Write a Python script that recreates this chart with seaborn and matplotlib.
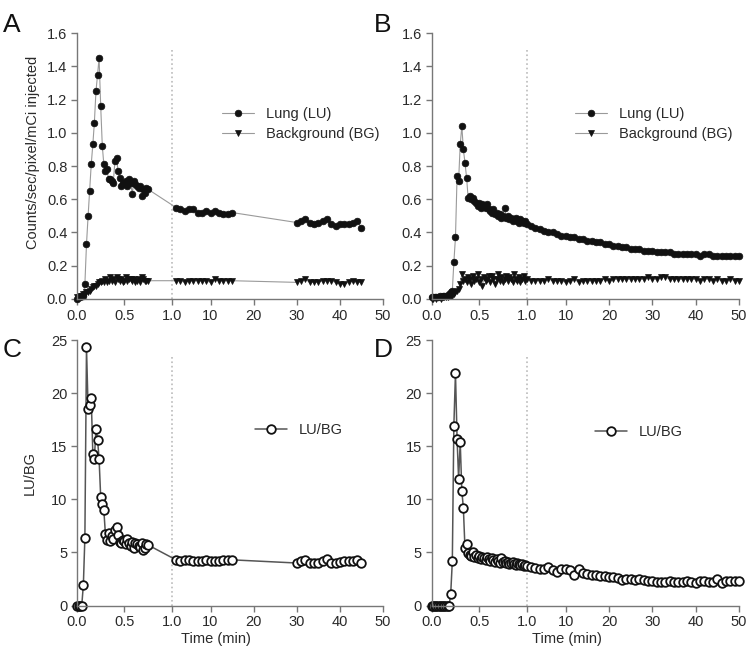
import numpy as np
import seaborn as sns
import matplotlib.pyplot as plt

# frame times (min): 1 s frames early, then 1 min frames
time_a = [0.000, 0.017, 0.033, 0.050, 0.067, 0.083, 0.100, 0.117, 0.133, 0.150,
          0.167, 0.183, 0.200, 0.217, 0.233, 0.250, 0.267, 0.283, 0.300, 0.317,
          0.333, 0.350, 0.367, 0.383, 0.400, 0.417, 0.433, 0.450, 0.467, 0.483,
          0.500, 0.517, 0.533, 0.550, 0.567, 0.583, 0.600, 0.617, 0.633, 0.650,
          0.667, 0.683, 0.700, 0.717, 0.733, 0.750,
          2, 3, 4, 5, 6, 7, 8, 9, 10, 11, 12, 13, 14, 15,
          30, 31, 32, 33, 34, 35, 36, 37, 38, 39, 40, 41, 42, 43, 44, 45]

time_b = [0.000, 0.017, 0.033, 0.050, 0.067, 0.083, 0.100, 0.117, 0.133, 0.150,
          0.167, 0.183, 0.200, 0.217, 0.233, 0.250, 0.267, 0.283, 0.300, 0.317,
          0.333, 0.350, 0.367, 0.383, 0.400, 0.417, 0.433, 0.450, 0.467, 0.483,
          0.500, 0.517, 0.533, 0.550, 0.567, 0.583, 0.600, 0.617, 0.633, 0.650,
          0.667, 0.683, 0.700, 0.717, 0.733, 0.750, 0.767, 0.783, 0.800, 0.817,
          0.833, 0.850, 0.867, 0.883, 0.900, 0.917, 0.933, 0.950, 0.967, 0.983,
          1.000,
          2, 3, 4, 5, 6, 7, 8, 9, 10, 11, 12, 13, 14, 15, 16, 17, 18, 19, 20,
          21, 22, 23, 24, 25, 26, 27, 28, 29, 30, 31, 32, 33, 34, 35, 36, 37,
          38, 39, 40, 41, 42, 43, 44, 45, 46, 47, 48, 49, 50]

# panel A
lung_a = [0.00, 0.01, 0.01, 0.02, 0.02, 0.09, 0.33, 0.50, 0.65, 0.81,
          0.93, 1.06, 1.25, 1.35, 1.45, 1.16, 0.92, 0.81, 0.77, 0.78,
          0.72, 0.72, 0.71, 0.70, 0.83, 0.85, 0.77, 0.73, 0.68, 0.70,
          0.70, 0.71, 0.68, 0.72, 0.70, 0.63, 0.71, 0.69, 0.68, 0.67,
          0.68, 0.62, 0.66, 0.64, 0.67, 0.66,
          0.55, 0.54, 0.53, 0.54, 0.54, 0.52, 0.52, 0.53, 0.52, 0.53, 0.52, 0.51, 0.51, 0.52,
          0.46, 0.47, 0.48, 0.46, 0.45, 0.46, 0.47, 0.48, 0.45, 0.44, 0.45, 0.45, 0.45, 0.46, 0.47, 0.43]
bg_a = [0.01, 0.01, 0.02, 0.02, 0.03, 0.03, 0.04, 0.04, 0.05, 0.06,
        0.07, 0.08, 0.08, 0.09, 0.10, 0.10, 0.11, 0.10, 0.12, 0.10,
        0.11, 0.13, 0.11, 0.12, 0.10, 0.13, 0.12, 0.11, 0.12, 0.10,
        0.11, 0.13, 0.11, 0.12, 0.12, 0.11, 0.12, 0.10, 0.11, 0.12,
        0.10, 0.13, 0.12, 0.11, 0.11, 0.11,
        0.11, 0.11, 0.10, 0.11, 0.11, 0.11, 0.11, 0.11, 0.10, 0.12, 0.11, 0.11, 0.11, 0.11,
        0.10, 0.11, 0.12, 0.10, 0.10, 0.10, 0.11, 0.11, 0.11, 0.10, 0.09, 0.09, 0.10, 0.11, 0.10, 0.10]

# panel C
ratio_c = [0, 0, 0, 0, 1.95, 6.4, 24.3, 18.5, 18.9, 19.5,
           14.3, 13.8, 16.6, 15.6, 13.8, 10.2, 9.6, 9.0, 6.7, 6.2,
           6.8, 6.1, 6.5, 6.3, 7.1, 7.4, 6.6, 6.0, 5.9, 6.2,
           6.1, 5.8, 6.3, 5.9, 5.6, 6.0, 5.4, 5.9, 5.8, 5.6,
           5.5, 5.9, 5.2, 5.4, 5.8, 5.7,
           4.3, 4.2, 4.3, 4.3, 4.2, 4.2, 4.2, 4.3, 4.2, 4.2, 4.2, 4.3, 4.3, 4.3,
           4.0, 4.2, 4.3, 4.0, 4.0, 4.0, 4.2, 4.4, 4.0, 4.0, 4.1, 4.2, 4.2, 4.2, 4.3, 4.0]

# panel B
lung_b = [0.01, 0.01, 0.01, 0.01, 0.01, 0.02, 0.01, 0.02, 0.02, 0.02,
          0.02, 0.03, 0.04, 0.05, 0.22, 0.37, 0.74, 0.71, 0.93, 1.04,
          0.90, 0.82, 0.73, 0.61, 0.62, 0.60, 0.61, 0.59, 0.58, 0.56,
          0.58, 0.55, 0.57, 0.56, 0.55, 0.57, 0.54, 0.53, 0.52, 0.54,
          0.51, 0.52, 0.50, 0.51, 0.49, 0.50, 0.55, 0.49, 0.50, 0.48,
          0.49, 0.47, 0.48, 0.49, 0.47, 0.46, 0.48, 0.47, 0.46, 0.47,
          0.45,
          0.44, 0.43, 0.42, 0.41, 0.40, 0.40, 0.39, 0.38, 0.38, 0.37,
          0.37, 0.36, 0.36, 0.35, 0.35, 0.34, 0.34, 0.33, 0.33, 0.32,
          0.32, 0.31, 0.31, 0.30, 0.30, 0.30, 0.29, 0.29, 0.29, 0.28,
          0.28, 0.28, 0.28, 0.27, 0.27, 0.27, 0.27, 0.27, 0.27, 0.26,
          0.27, 0.27, 0.26, 0.26, 0.26, 0.26, 0.26, 0.26, 0.26]
bg_b = [0.00, 0.00, 0.01, 0.00, 0.01, 0.01, 0.00, 0.01, 0.01, 0.01,
        0.01, 0.02, 0.02, 0.02, 0.03, 0.04, 0.05, 0.06, 0.09, 0.15,
        0.11, 0.12, 0.10, 0.13, 0.12, 0.09, 0.14, 0.11, 0.12, 0.15,
        0.10, 0.12, 0.08, 0.13, 0.11, 0.12, 0.14, 0.10, 0.14, 0.12,
        0.09, 0.12, 0.15, 0.11, 0.13, 0.10, 0.12, 0.14, 0.11, 0.13,
        0.12, 0.10, 0.15, 0.12, 0.11, 0.13, 0.10, 0.12, 0.14, 0.11,
        0.12,
        0.11, 0.11, 0.11, 0.11, 0.12, 0.11, 0.11, 0.11, 0.10, 0.11,
        0.12, 0.10, 0.11, 0.11, 0.11, 0.11, 0.11, 0.12, 0.11, 0.12,
        0.12, 0.12, 0.12, 0.12, 0.12, 0.12, 0.12, 0.13, 0.12, 0.12,
        0.13, 0.13, 0.12, 0.12, 0.12, 0.12, 0.12, 0.12, 0.12, 0.11,
        0.12, 0.12, 0.11, 0.12, 0.11, 0.11, 0.12, 0.11, 0.11]

# panel D
ratio_d = [0, 0, 0, 0, 0, 0, 0, 0, 0, 0,
           0, 0, 1.1, 4.2, 16.9, 21.9, 15.7, 11.9, 15.4, 10.8,
           9.2, 5.4, 5.8, 4.9, 4.8, 4.7, 5.0, 4.6, 4.8, 4.5,
           4.7, 4.4, 4.6, 4.5, 4.3, 4.6, 4.4, 4.2, 4.5, 4.3,
           4.1, 4.4, 4.2, 4.0, 4.5, 4.1, 4.2, 4.0, 4.1, 3.9,
           4.0, 4.1, 3.9, 3.8, 4.0, 3.9, 3.8, 3.9, 3.7, 3.8,
           3.7,
           3.6, 3.5, 3.4, 3.4, 3.6, 3.3, 3.2, 3.4, 3.4, 3.3,
           2.9, 3.4, 3.1, 3.0, 2.9, 2.9, 2.8, 2.8, 2.7, 2.7,
           2.6, 2.4, 2.5, 2.5, 2.4, 2.5, 2.4, 2.3, 2.3, 2.2,
           2.2, 2.2, 2.3, 2.2, 2.2, 2.2, 2.3, 2.2, 2.1, 2.3,
           2.3, 2.2, 2.2, 2.5, 2.1, 2.3, 2.3, 2.3, 2.3]

x_ticks = [0, 0.5, 1.0, 10, 20, 30, 40, 50]
x_ticklabels = ['0.0', '0.5', '1.0', '10', '20', '30', '40', '50']

sns.set_style('ticks')
plt.rcParams['font.family'] = ['Liberation Sans', 'DejaVu Sans']

# broken time axis: 0-1 min stretched, 1-50 min compressed
K = (212 / 95) / 49


def fwd(t):
    t = np.asarray(t, dtype=float)
    return np.where(t <= 1, t, 1 + (t - 1) * K)


def inv(u):
    u = np.asarray(u, dtype=float)
    return np.where(u <= 1, u, 1 + (u - 1) / K)


AXC = '#777777'
TXT = '#2a2a2a'

fig = plt.figure(figsize=(7.5, 6.64), dpi=100)
ax_a = fig.add_axes([0.1027, 0.5497, 0.408, 0.4006])
ax_b = fig.add_axes([0.5756, 0.5497, 0.4096, 0.4006])
ax_c = fig.add_axes([0.1027, 0.0881, 0.408, 0.3998])
ax_d = fig.add_axes([0.5756, 0.0881, 0.4096, 0.3998])

for ax, t, lu, bg in [(ax_a, time_a, lung_a, bg_a), (ax_b, time_b, lung_b, bg_b)]:
    sns.lineplot(x=t, y=lu, ax=ax, estimator=None, color='#9a9a9a', lw=0.8,
                 marker='o', ms=4.8, markerfacecolor='#111111',
                 markeredgecolor='#111111', markeredgewidth=0.5,
                 clip_on=False, label='Lung (LU)')
    sns.lineplot(x=t, y=bg, ax=ax, estimator=None, color='#9a9a9a', lw=0.8,
                 marker='v', ms=4.2, markerfacecolor='#111111',
                 markeredgecolor='#111111', markeredgewidth=0.5,
                 clip_on=False, label='Background (BG)')
    ax.set_ylim(0, 1.6)
    ax.set_yticks(np.arange(0, 1.61, 0.2))
    ax.set_yticklabels([f'{v:.1f}' for v in np.arange(0, 1.61, 0.2)])

for ax, t, r in [(ax_c, time_a, ratio_c), (ax_d, time_b, ratio_d)]:
    sns.lineplot(x=t, y=r, ax=ax, estimator=None, color='#555555', lw=1.1,
                 marker='o', ms=6.2, markerfacecolor='white',
                 markeredgecolor='#111111', markeredgewidth=1.3,
                 clip_on=False, label='LU/BG')
    ax.set_ylim(0, 25)
    ax.set_yticks([0, 5, 10, 15, 20, 25])

for ax in [ax_a, ax_b, ax_c, ax_d]:
    ax.set_xscale('function', functions=(fwd, inv))
    ax.set_xlim(0, 50)
    ax.set_xticks(x_ticks)
    ax.set_xticklabels(x_ticklabels)
    ax.minorticks_off()
    ax.axvline(1.0, ymin=0, ymax=0.94, color='#bbbbbb', ls=':', lw=1.2, zorder=0)
    sns.despine(ax=ax)
    for s in ['left', 'bottom']:
        ax.spines[s].set_color(AXC)
        ax.spines[s].set_linewidth(1.0)
    ax.tick_params(direction='out', length=4, width=1, color=AXC,
                   labelcolor=TXT, labelsize=10.5, pad=3)
    ax.set_xlabel('')
    ax.set_ylabel('')

ax_a.set_ylabel('Counts/sec/pixel/mCi injected', fontsize=10.5, color=TXT)
ax_a.yaxis.set_label_coords(-0.122, 0.55)
ax_c.set_ylabel('LU/BG', fontsize=10.5, color=TXT)
ax_c.yaxis.set_label_coords(-0.13, 0.5)
ax_c.set_xlabel('Time (min)', fontsize=10.5, color=TXT)
ax_c.xaxis.set_label_coords(0.454, -0.1)
ax_d.set_xlabel('Time (min)', fontsize=10.5, color=TXT)
ax_d.xaxis.set_label_coords(0.44, -0.1)

legend_pos = {ax_a: (222 / 750, 1 - 124 / 664), ax_b: (575 / 750, 1 - 124 / 664),
              ax_c: (255 / 750, 1 - 430 / 664), ax_d: (595 / 750, 1 - 432 / 664)}
for ax, pos in legend_pos.items():
    leg = ax.legend(loc='center left', bbox_to_anchor=pos, bbox_transform=fig.transFigure,
                    frameon=False, borderpad=0, borderaxespad=0, handlelength=2.2,
                    handletextpad=0.8, labelspacing=0.45, fontsize=10.5)
    for txt in leg.get_texts():
        txt.set_color(TXT)

for letter, x, y in [('A', 3, 32), ('B', 374, 32), ('C', 3, 357), ('D', 374, 357)]:
    fig.text(x / 750, 1 - y / 664, letter, fontsize=19, va='baseline', color='#111111')

fig.savefig('out.png', dpi=100)
